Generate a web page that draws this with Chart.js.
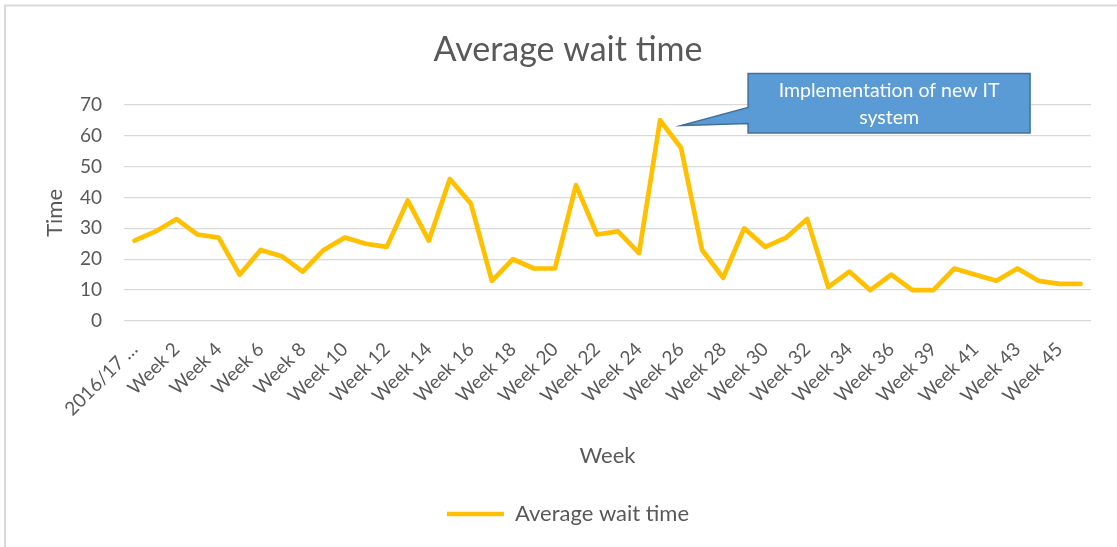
<!DOCTYPE html>
<html>
<head>
<meta charset="utf-8">
<style>
  html, body { margin: 0; padding: 0; background: #fff; }
  #wrap { position: relative; width: 1117px; height: 547px; }
</style>
<script src="https://cdn.jsdelivr.net/npm/chart.js@4.4.1/dist/chart.umd.min.js"></script>
</head>
<body>
<div id="wrap"><canvas id="waitChart" width="1117" height="547"></canvas></div>
<script>
// Categories: first one is truncated in the original, Week 38 is absent
const weeks = ["2016/17 …"];
for (let w = 1; w <= 46; w++) if (w !== 38) weeks.push("Week " + w);

const waitTimes = [26, 29, 33, 28, 27, 15, 23, 21, 16, 23,
                   27, 25, 24, 39, 26, 46, 38, 13, 20, 17,
                   17, 44, 28, 29, 22, 65, 56, 23, 14, 30,
                   24, 27, 33, 11, 16, 10, 15, 10, 10, 17,
                   15, 13, 17, 13, 12, 12];

const yTicks = [0, 10, 20, 30, 40, 50, 60, 70];

const calloutLines = ["Implementation of new IT", "system"];

const FONT = "Lato, 'Open Sans', sans-serif";
const TEXT = "#595959";
const GRID = "#D9D9D9";

// frame around the chart and the callout note
const decorPlugin = {
  id: "decor",
  beforeDraw(chart) {
    const ctx = chart.ctx;
    ctx.save();
    ctx.strokeStyle = GRID;
    ctx.lineWidth = 2;
    ctx.beginPath();
    ctx.moveTo(5, 547);
    ctx.lineTo(5, 5.5);
    ctx.lineTo(1117, 5.5);
    ctx.stroke();
    ctx.restore();
  },
  afterDraw(chart) {
    const ctx = chart.ctx;
    const x = chart.scales.x, y = chart.scales.y;
    // pointer tip sits next to the week 26 peak
    const tx = x.getPixelForValue(26);
    const ty = y.getPixelForValue(63.3);
    const L = tx + 67, R = tx + 349, T = ty - 52, B = ty + 7.5;
    ctx.save();
    ctx.beginPath();
    ctx.moveTo(L, T);
    ctx.lineTo(R, T);
    ctx.lineTo(R, B);
    ctx.lineTo(L, B);
    ctx.lineTo(L, ty - 2);
    ctx.lineTo(tx, ty);
    ctx.lineTo(L, ty - 18);
    ctx.closePath();
    ctx.fillStyle = "#5B9BD5";
    ctx.fill();
    ctx.strokeStyle = "#41719C";
    ctx.lineWidth = 1.5;
    ctx.stroke();
    ctx.fillStyle = "#FFFFFF";
    ctx.font = "19.5px " + FONT;
    ctx.textAlign = "center";
    ctx.textBaseline = "alphabetic";
    calloutLines.forEach((s, i) => ctx.fillText(s, (L + R) / 2, T + 24 + i * 27));
    ctx.restore();
  }
};

new Chart(document.getElementById("waitChart"), {
  type: "line",
  data: {
    labels: weeks,
    datasets: [{
      label: "Average wait time",
      data: waitTimes,
      borderColor: "#FFC000",
      backgroundColor: "#FFC000",
      borderWidth: 4.7,
      borderJoinStyle: "round",
      borderCapStyle: "round",
      pointRadius: 0,
      tension: 0,
      fill: false
    }]
  },
  options: {
    responsive: false,
    animation: false,
    layout: { padding: { left: 45, right: 26, top: 0, bottom: 12 } },
    plugins: {
      title: {
        display: true,
        text: "Average wait time",
        color: TEXT,
        font: { family: FONT, size: 34, weight: "normal" },
        padding: { top: 30, bottom: 34 }
      },
      legend: {
        position: "bottom",
        labels: {
          color: TEXT,
          font: { family: FONT, size: 22 },
          usePointStyle: true,
          pointStyle: "line",
          pointStyleWidth: 57,
          padding: 10
        }
      },
      tooltip: { enabled: false }
    },
    scales: {
      x: {
        offset: true,
        grid: { display: false },
        border: { display: false },
        afterFit(scale) { scale.height = 172; },
        ticks: {
          color: TEXT,
          font: { family: FONT, size: 19 },
          autoSkip: false,
          minRotation: 45,
          maxRotation: 45,
          padding: 9,
          callback(val, i) { return i % 2 === 0 ? this.getLabelForValue(val) : ""; }
        },
        title: {
          display: true,
          text: "Week",
          color: TEXT,
          font: { family: FONT, size: 22 },
          padding: { top: 0, bottom: 24 }
        }
      },
      y: {
        min: 0,
        max: 70,
        afterFit(scale) { scale.width = 79; },
        afterBuildTicks(scale) { scale.ticks = yTicks.map(v => ({ value: v })); },
        grid: { color: GRID, lineWidth: 1.3, drawTicks: false },
        border: { display: false },
        ticks: {
          color: TEXT,
          font: { family: FONT, size: 19 },
          padding: 22
        },
        title: {
          display: true,
          text: "Time",
          color: TEXT,
          font: { family: FONT, size: 22, lineHeight: 0.9 },
          padding: { top: 0, bottom: 0 }
        }
      }
    }
  },
  plugins: [decorPlugin]
});
</script>
</body>
</html>
